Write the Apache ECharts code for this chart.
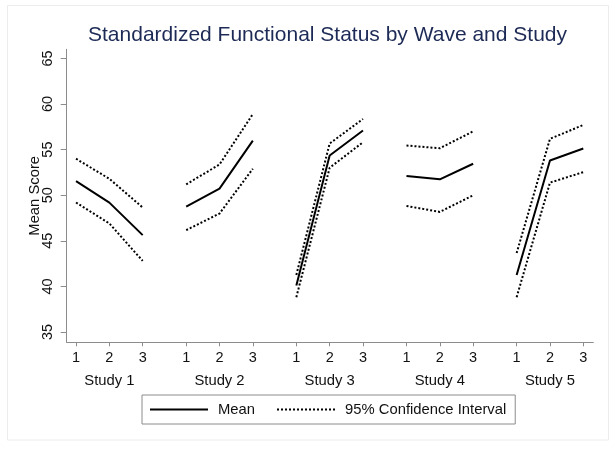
<!DOCTYPE html>
<html><head><meta charset="utf-8">
<script src="https://cdn.jsdelivr.net/npm/echarts@6/dist/echarts.min.js"></script>
<style>html,body{margin:0;padding:0;background:#fff}#c{width:615px;height:451px}</style>
</head><body><div id="c"></div>
<script>
// ---- data ----
const studies = ['Study 1', 'Study 2', 'Study 3', 'Study 4', 'Study 5'];
const waves = [1, 2, 3];
const meanValues = [
  [51.55, 49.19, 45.62],
  [48.76, 50.72, 55.99],
  [40.09, 54.36, 57.09],
  [52.10, 51.74, 53.45],
  [41.26, 53.81, 55.12]
];
const upperValues = [
  [54.00, 51.80, 48.65],
  [51.19, 53.37, 58.90],
  [41.26, 55.67, 58.36],
  [55.45, 55.15, 57.00],
  [43.66, 56.18, 57.70]
];
const lowerValues = [
  [49.20, 46.90, 42.80],
  [46.17, 47.99, 52.90],
  [38.82, 53.01, 55.81],
  [48.82, 48.17, 49.99],
  [38.82, 51.38, 52.53]
];
const yTicks = [35, 40, 45, 50, 55, 60, 65];
const titleText = 'Standardized Functional Status by Wave and Study';
const meanName = 'Mean';
const ciName = '95% Confidence Interval';

// ---- layout ----
const STUDY_GAP = 3.305;
const pos = (s, w) => s * STUDY_GAP + w;
const FONT = "'Liberation Sans', Arial, Helvetica, sans-serif";
const xTickValues = [];
studies.forEach((s, i) => waves.forEach(w => xTickValues.push(pos(i, w))));

const series = [];
studies.forEach((s, i) => {
  const mk = (name, vals, type) => ({
    type: 'line', name: name, symbol: 'none', silent: true,
    data: waves.map((w, j) => [pos(i, w), vals[i][j]]),
    lineStyle: { color: '#000', width: 2, type: type },
    itemStyle: { color: '#000' }
  });
  series.push(mk(ciName, upperValues, 'dotted'));
  series.push(mk(ciName, lowerValues, 'dotted'));
  series.push(mk(meanName, meanValues, 'solid'));
});

const chart = echarts.init(document.getElementById('c'), null, { renderer: 'canvas' });
chart.setOption({
  animation: false,
  backgroundColor: '#fff',
  textStyle: { fontFamily: FONT },
  title: {
    text: titleText, left: 88, top: 25, padding: 0,
    textStyle: { fontSize: 21, fontWeight: 'normal', color: '#1c2a55', fontFamily: FONT }
  },
  graphic: [{
    type: 'rect', silent: true, z: -1,
    shape: { x: 7.5, y: 5.5, width: 601, height: 434.5 },
    style: { fill: 'none', stroke: '#ececec', lineWidth: 1 }
  }],
  legend: {
    data: [meanName, ciName],
    left: 142, top: 395,
    itemWidth: 58, itemHeight: 14, itemGap: 21,
    padding: [7, 9, 7, 7],
    borderColor: '#8c8c8c', borderWidth: 1,
    selectedMode: false,
    itemStyle: { color: 'transparent', borderColor: 'transparent', borderWidth: 0, opacity: 0 },
    textStyle: { fontSize: 14.8, color: '#111', fontFamily: FONT, padding: [0, 0, 0, 5] }
  },
  grid: { left: 66.7, right: 21.7, top: 49.3, bottom: 108.7, containLabel: false },
  xAxis: {
    type: 'value', min: 0.72, max: pos(4, 3) + 0.3,
    axisLine: { show: true, lineStyle: { color: '#8c8c8c', width: 1 } },
    axisTick: { show: true, customValues: xTickValues, length: 4, lineStyle: { color: '#8c8c8c' } },
    splitLine: { show: false },
    axisLabel: {
      customValues: xTickValues, margin: 7, color: '#111',
      formatter: function (val) {
        const s = Math.floor((val - 0.5) / STUDY_GAP);
        const w = Math.round(val - s * STUDY_GAP);
        return w === 2 ? '{w|' + w + '}\n{s|' + studies[s] + '}' : '{w|' + w + '}';
      },
      rich: {
        w: { fontSize: 14.5, lineHeight: 17, color: '#111', fontFamily: FONT },
        s: { fontSize: 14.8, lineHeight: 29.6, color: '#111', fontFamily: FONT }
      }
    }
  },
  yAxis: {
    type: 'value', min: 33.87, max: 66,
    name: 'Mean Score', nameLocation: 'middle', nameGap: 24.5, nameRotate: 90,
    nameMoveOverlap: false,
    nameTextStyle: { fontSize: 14.8, color: '#111', fontFamily: FONT },
    axisLine: { show: true, lineStyle: { color: '#8c8c8c', width: 1 } },
    axisTick: { show: true, customValues: yTicks, length: 6, lineStyle: { color: '#8c8c8c' } },
    splitLine: { show: false },
    axisLabel: { customValues: yTicks, rotate: 90, margin: 11, fontSize: 14.5, color: '#111', fontFamily: FONT }
  },
  series: series
});
</script></body></html>
